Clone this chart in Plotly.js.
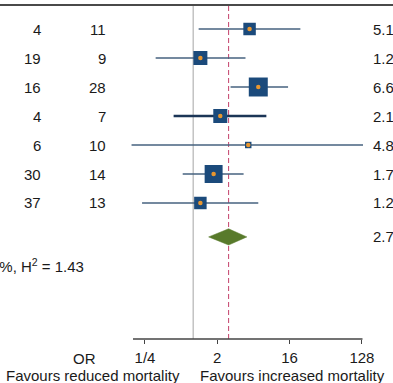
<!DOCTYPE html>
<html>
<head>
<meta charset="utf-8">
<script src="https://cdn.plot.ly/plotly-3.0.1.min.js"></script>
<style>html,body{margin:0;padding:0;background:#fff;}#chart{width:393px;height:383px;}</style>
</head>
<body>
<div id="chart"></div>
<script>
// ---- data ----
var rowIndex = [1, 2, 3, 4, 5, 6, 7];
var eventsA = ['4', '19', '16', '4', '6', '30', '37'];
var eventsB = ['11', '9', '28', '7', '10', '14', '13'];
var orEst = [5.06, 1.23, 6.5, 2.18, 4.87, 1.8, 1.23];
var ciLow = [1.17, 0.34, 2.93, 0.57, 0.17, 0.74, 0.23];
var ciHigh = [21.8, 4.5, 15.3, 8.2, 132, 4.26, 6.5];
var orLabels = ['5.1', '1.2', '6.6', '2.1', '4.8', '1.7', '1.2'];
var weights = [10.9, 13.7, 25.2, 13.7, 2.9, 22.6, 10.9];
var overallRow = 8.17;
var overallEst = 2.77;
var overallLow = 1.56;
var overallHigh = 4.68;
var overallLabel = '2.7';
var heteroText = 'I<sup>2</sup> = 30.0%, H<sup>2</sup> = 1.43';
var tickVals = [0.25, 2, 16, 128];
var tickText = ['1/4', '2', '16', '128'];

// ---- build traces ----
var FONT = 'Liberation Sans, Arial, sans-serif';
var FS = 15;
var TXT = '#1a1a1a';
var lineX = [], lineY = [], thickX = [], thickY = [];
for (var i = 0; i < rowIndex.length; i++) {
  if (i === 3) {
    thickX.push(ciLow[i], ciHigh[i], null);
    thickY.push(rowIndex[i], rowIndex[i], null);
  } else {
    lineX.push(ciLow[i], ciHigh[i], null);
    lineY.push(rowIndex[i], rowIndex[i], null);
  }
}
var sizes = weights.map(function (w) { return 3.78 * Math.sqrt(w); });
var dh = 0.28;
var traces = [
  {x: lineX, y: lineY, mode: 'lines', line: {color: '#46627f', width: 1.4}, hoverinfo: 'skip'},
  {x: thickX, y: thickY, mode: 'lines', line: {color: '#1b3556', width: 2.6}, hoverinfo: 'skip'},
  {x: orEst, y: rowIndex, mode: 'markers', cliponaxis: false, opacity: 1,
   marker: {symbol: 'square', size: sizes, color: '#1b4a7b', opacity: 1, line: {width: 0}}},
  {x: orEst, y: rowIndex, mode: 'markers', cliponaxis: false, opacity: 1,
   marker: {symbol: 'circle', size: 4.5, color: '#e8962f', opacity: 1, line: {width: 0}}},
  {x: [overallLow, overallEst, overallHigh, overallEst, overallLow],
   y: [overallRow, overallRow - dh, overallRow, overallRow + dh, overallRow],
   mode: 'lines', fill: 'toself', fillcolor: '#587a2b', line: {color: '#587a2b', width: 0.5}}
];

var annotations = [];
function px(p) { return p / 393; }
function py(p) { return (339 - p) / 334; }
function ann(x, xref, y, yref, text, xanchor) {
  annotations.push({xref: xref, yref: yref, x: x, y: y, text: text, xanchor: xanchor,
    yanchor: 'middle', showarrow: false, font: {family: FONT, size: FS, color: TXT}});
}
for (var j = 0; j < rowIndex.length; j++) {
  ann(px(43), 'paper', rowIndex[j], 'y', eventsA[j], 'right');
  ann(px(108), 'paper', rowIndex[j], 'y', eventsB[j], 'right');
  ann(px(371), 'paper', rowIndex[j], 'y', orLabels[j], 'left');
}
ann(px(371), 'paper', overallRow, 'y', overallLabel, 'left');
ann(px(86), 'paper', 9.17, 'y', heteroText, 'right');
ann(px(84), 'paper', py(358), 'paper', 'OR', 'center');
ann(px(93), 'paper', py(375), 'paper', 'Favours reduced mortality', 'center');
ann(px(292), 'paper', py(375), 'paper', 'Favours increased mortality', 'center');

var layout = {
  width: 393, height: 383,
  margin: {l: 0, r: 0, t: 5, b: 44, pad: 0},
  paper_bgcolor: '#ffffff', plot_bgcolor: '#ffffff',
  showlegend: false,
  xaxis: {type: 'log', range: [-2.412, 2.495], showgrid: false, zeroline: false, showline: false,
    tickvals: tickVals, ticktext: tickText, ticks: 'outside', ticklen: 4, tickwidth: 1, tickcolor: '#444',
    ticklabelstandoff: 1,
    tickfont: {family: FONT, size: FS, color: TXT}, fixedrange: true},
  yaxis: {range: [11.69, 0.1724], showgrid: false, zeroline: false, showline: false,
    showticklabels: false, ticks: '', fixedrange: true},
  shapes: [
    {type: 'line', xref: 'x', yref: 'paper', x0: 1, x1: 1, y0: 0, y1: 1, line: {color: '#b4b4b4', width: 1.2}, layer: 'below'},
    {type: 'line', xref: 'x', yref: 'paper', x0: overallEst, x1: overallEst, y0: 0, y1: 1, line: {color: '#c4406a', width: 1, dash: '5px,3px'}, layer: 'below'},
    {type: 'line', xref: 'paper', yref: 'paper', x0: 0, x1: 1, y0: 1, y1: 1, line: {color: '#4a4a4a', width: 2}},
    {type: 'line', xref: 'paper', yref: 'paper', x0: px(133), x1: px(362.5), y0: 0, y1: 0, line: {color: '#444', width: 1.3}}
  ],
  annotations: annotations
};

Plotly.newPlot('chart', traces, layout, {displayModeBar: false, staticPlot: true});
</script>
</body>
</html>
